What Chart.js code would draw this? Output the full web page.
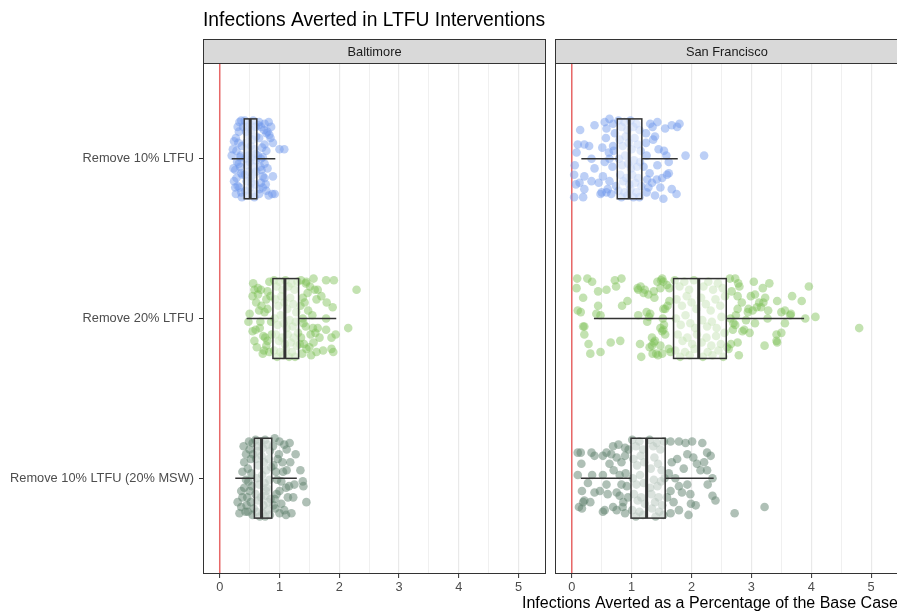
<!DOCTYPE html>
<html><head><meta charset="utf-8">
<script src="https://cdn.jsdelivr.net/npm/chart.js@4/dist/chart.umd.min.js"></script>
<style>
html,body{margin:0;padding:0;background:#fff;overflow:hidden;width:897px;height:612px;}
#wrap{position:relative;width:897px;height:612px;overflow:hidden;}
canvas{position:absolute;top:0;left:0;}
</style></head><body>
<div id="wrap"><canvas id="c1" width="897" height="612"></canvas><canvas id="c2" width="903" height="612"></canvas></div>
<script>
const title = "Infections Averted in LTFU Interventions";
const xTitle = "Infections Averted as a Percentage of the Base Case";
const panels = ["Baltimore", "San Francisco"];
const categories = ["Remove 10% LTFU", "Remove 20% LTFU", "Remove 10% LTFU (20% MSW)"];
const xTickValues = [0, 0.5, 1, 1.5, 2, 2.5, 3, 3.5, 4, 4.5, 5];
const seriesColors = ["rgba(110,150,235,0.46)", "rgba(125,192,85,0.46)", "rgba(95,130,110,0.5)"];

// box statistics per category
const balWhiskLo = [0.20, 0.45, 0.26];
const balQ1      = [0.41, 0.89, 0.58];
const balMedian  = [0.51, 1.09, 0.70];
const balQ3      = [0.62, 1.32, 0.87];
const balWhiskHi = [0.93, 1.95, 1.29];
const sfWhiskLo  = [0.16, 0.37, 0.15];
const sfQ1       = [0.76, 1.70, 0.99];
const sfMedian   = [0.96, 2.12, 1.25];
const sfQ3       = [1.17, 2.58, 1.56];
const sfWhiskHi  = [1.77, 3.88, 2.37];

// jittered points: [value, vertical jitter]
const balRemove10 = [[0.24,-0.11],[0.22,-0.06],[0.27,-0.13],[0.30,-0.20],[0.33,-0.23],[0.36,-0.24],[0.32,-0.17],[0.26,0.07],[0.24,0.14],[0.28,0.12],[0.27,0.22],[0.33,0.18],[0.36,0.21],[0.37,0.24],[0.32,0.03],[0.34,-0.01],[0.28,-0.05],[0.37,-0.08],[0.36,0.09],[0.30,0.17],[0.2,-0.02],[0.23,0.06],[0.29,0.02],[0.35,-0.02],[0.31,-0.1],[0.38,0.1],[0.26,0.18],[0.39,-0.2],[0.34,0.05],
[0.42,-0.24],[0.45,-0.2],[0.48,-0.15],[0.5,-0.22],[0.53,-0.18],[0.56,-0.24],[0.6,-0.2],[0.44,-0.1],[0.47,-0.05],[0.52,-0.08],[0.55,-0.12],[0.58,-0.06],[0.61,-0.14],[0.43,0.0],[0.46,0.04],[0.5,0.02],[0.54,-0.01],[0.57,0.05],[0.6,0.01],[0.42,0.1],[0.45,0.14],[0.49,0.08],[0.52,0.12],[0.56,0.1],[0.59,0.16],[0.43,0.2],[0.47,0.23],[0.51,0.18],[0.55,0.22],[0.58,0.24],[0.61,0.08],[0.48,-0.02],[0.53,0.15],[0.44,-0.17],[0.6,-0.03],
[0.66,-0.23],[0.69,-0.20],[0.75,-0.22],[0.82,-0.23],[0.86,-0.20],[0.80,-0.17],[0.78,-0.16],[0.83,-0.15],[0.89,-0.10],[0.75,-0.09],[0.71,-0.07],[0.78,-0.05],[1.00,-0.06],[1.08,-0.06],[0.72,-0.01],[0.75,0.03],[0.68,0.05],[0.72,0.11],[0.75,0.12],[0.89,0.11],[0.69,0.15],[0.72,0.18],[0.78,0.20],[0.82,0.23],[0.88,0.22],[0.92,0.22],[0.66,0.19],[0.66,-0.13],[0.64,-0.02],[0.7,0.07],[0.66,0.22],[0.74,-0.18],[0.8,0.06],[0.85,-0.13],[0.77,0.16],[0.65,-0.21],[0.69,0.0]];

const balRemove20 = [[0.50,-0.03],[0.55,-0.14],[0.58,-0.18],[0.64,-0.19],[0.69,-0.18],[0.61,-0.10],[0.66,-0.05],[0.75,-0.04],[0.80,-0.06],[0.78,-0.12],[0.83,-0.23],[0.80,-0.17],[0.55,0.08],[0.60,0.07],[0.67,0.06],[0.73,0.11],[0.76,0.12],[0.80,0.14],[0.72,0.22],[0.83,0.21],[0.78,0.17],[0.86,0.02],[0.48,0.02],[0.56,-0.22],[0.62,0.18],[0.7,-0.08],[0.74,0.2],[0.68,0.02],[0.85,-0.14],[0.58,0.14],[0.64,-0.15],[0.87,0.1],
[0.91,-0.24],[0.95,-0.2],[1.0,-0.23],[1.05,-0.18],[1.1,-0.24],[1.15,-0.2],[1.2,-0.22],[1.25,-0.18],[1.3,-0.23],[0.93,-0.12],[0.98,-0.08],[1.03,-0.14],[1.08,-0.1],[1.13,-0.06],[1.18,-0.13],[1.23,-0.09],[1.28,-0.04],[0.92,0.0],[0.97,0.04],[1.02,-0.02],[1.07,0.03],[1.12,0.06],[1.17,0.01],[1.22,0.05],[1.27,0.02],[0.94,0.1],[0.99,0.14],[1.04,0.12],[1.09,0.16],[1.14,0.1],[1.19,0.15],[1.24,0.12],[1.29,0.17],[0.91,0.2],[0.96,0.24],[1.01,0.21],[1.06,0.23],[1.11,0.19],[1.16,0.24],[1.21,0.21],[1.26,0.24],[1.31,0.09],
[1.36,-0.24],[1.45,-0.23],[1.57,-0.25],[1.78,-0.24],[1.91,-0.24],[2.29,-0.18],[1.51,-0.20],[1.59,-0.18],[1.64,-0.18],[1.62,-0.12],[1.39,-0.13],[1.42,-0.10],[1.48,-0.05],[1.79,-0.10],[1.89,-0.07],[1.78,0.00],[2.15,0.06],[1.39,0.00],[1.44,0.05],[1.56,0.06],[1.64,0.06],[1.60,0.09],[1.67,0.12],[1.57,0.15],[1.50,0.18],[1.45,0.19],[1.53,0.23],[1.62,0.21],[1.73,0.20],[1.87,0.19],[1.90,0.21],[1.94,0.10],[1.87,0.12],[1.78,0.07],[1.36,0.12],[1.41,0.16],[1.35,-0.08],[1.4,0.03],[1.47,-0.16],[1.52,0.1],[1.38,0.22],[1.55,-0.02],[1.7,-0.14],[1.34,0.16],[1.44,-0.22]];

const balRemove10MSW = [[0.33,0.22],[0.36,0.18],[0.38,0.12],[0.41,0.06],[0.44,0.01],[0.38,-0.04],[0.41,-0.10],[0.44,-0.15],[0.49,-0.23],[0.50,-0.18],[0.52,-0.12],[0.47,-0.06],[0.50,0.08],[0.52,0.15],[0.47,0.21],[0.55,0.23],[0.55,-0.22],[0.54,0.05],[0.36,0.08],[0.45,0.17],[0.3,0.15],[0.4,-0.2],[0.46,0.12],[0.53,-0.03],[0.57,0.19],[0.43,0.21],[0.56,-0.15],[0.48,0.02],
[0.6,-0.24],[0.64,-0.2],[0.68,-0.23],[0.72,-0.19],[0.76,-0.24],[0.8,-0.21],[0.84,-0.17],[0.61,-0.12],[0.65,-0.08],[0.7,-0.14],[0.74,-0.1],[0.78,-0.05],[0.82,-0.12],[0.86,-0.07],[0.62,0.0],[0.66,0.04],[0.71,-0.02],[0.75,0.03],[0.79,0.06],[0.83,0.01],[0.6,0.1],[0.64,0.14],[0.69,0.12],[0.73,0.17],[0.77,0.11],[0.81,0.15],[0.85,0.13],[0.62,0.21],[0.67,0.24],[0.72,0.22],[0.76,0.24],[0.8,0.2],[0.84,0.23],[0.63,-0.17],[0.78,0.08],
[0.92,-0.25],[1.00,-0.23],[1.08,-0.21],[1.17,-0.22],[1.12,-0.18],[0.99,-0.15],[1.27,-0.15],[1.18,-0.10],[1.12,-0.05],[1.06,-0.04],[1.35,-0.05],[1.39,0.02],[1.40,0.05],[1.25,0.04],[1.11,0.06],[1.00,0.08],[0.95,0.10],[1.14,0.12],[1.23,0.12],[1.45,0.15],[1.03,0.16],[0.93,0.19],[1.00,0.22],[1.11,0.23],[1.20,0.22],[0.92,0.13],[0.90,-0.08],[0.96,0.01],[0.89,-0.2],[0.94,-0.04],[1.03,0.02],[0.97,-0.12],[1.08,0.2],[0.9,0.17],[1.16,0.05],[1.05,-0.1]];

const sfRemove10 = [[0.05,0.04],[0.04,0.10],[0.07,0.16],[0.04,0.24],[0.19,0.24],[0.10,-0.09],[0.08,-0.04],[0.14,-0.18],[0.21,-0.09],[0.29,-0.08],[0.38,-0.21],[0.33,0.00],[0.38,0.06],[0.21,0.11],[0.33,0.14],[0.13,0.15],[0.21,0.19],[0.51,-0.07],[0.57,-0.13],[0.58,-0.19],[0.55,-0.23],[0.63,-0.25],[0.69,-0.22],[0.62,-0.04],[0.68,0.05],[0.52,0.11],[0.63,0.14],[0.50,0.21],[0.48,0.22],[0.58,0.21],[0.66,0.22],[0.74,0.17],[0.69,-0.08],[0.72,-0.16],[0.63,0.00],[0.55,0.02],[0.7,-0.05],[0.45,0.15],[0.6,0.19],
[0.78,-0.24],[0.83,-0.2],[0.88,-0.23],[0.93,-0.18],[0.98,-0.24],[1.03,-0.2],[1.08,-0.22],[1.13,-0.18],[0.8,-0.12],[0.85,-0.08],[0.9,-0.14],[0.95,-0.1],[1.0,-0.06],[1.05,-0.13],[1.1,-0.09],[1.15,-0.05],[0.79,0.0],[0.84,0.04],[0.89,-0.02],[0.94,0.03],[0.99,0.06],[1.04,0.01],[1.09,0.05],[1.14,0.02],[0.81,0.1],[0.86,0.14],[0.91,0.12],[0.96,0.16],[1.01,0.1],[1.06,0.15],[1.11,0.12],[1.16,0.17],[0.78,0.2],[0.83,0.24],[0.88,0.21],[0.93,0.23],[0.98,0.19],[1.03,0.24],[1.08,0.21],[1.13,0.24],
[1.24,-0.16],[1.31,-0.22],[1.43,-0.23],[1.56,-0.19],[1.67,-0.21],[1.76,-0.20],[1.80,-0.22],[1.39,-0.14],[1.36,-0.12],[1.24,-0.10],[1.25,-0.02],[1.54,-0.05],[1.58,-0.02],[1.90,-0.02],[2.21,-0.02],[1.43,0.04],[1.30,0.09],[1.26,0.13],[1.42,0.13],[1.51,0.12],[1.59,0.10],[1.62,0.09],[1.34,0.15],[1.25,0.21],[1.39,0.23],[1.48,0.18],[1.67,0.19],[1.75,0.22],[1.53,0.25],[1.45,-0.06],[1.62,0.02],[1.2,0.05],[1.35,-0.2],[1.28,0.18]];

const sfRemove20 = [[0.09,-0.25],[0.26,-0.25],[0.34,-0.23],[0.08,-0.19],[0.19,-0.13],[0.10,-0.05],[0.15,-0.04],[0.44,-0.17],[0.58,-0.18],[0.72,-0.24],[0.83,-0.25],[0.74,-0.20],[0.93,-0.11],[0.84,-0.08],[0.44,-0.08],[0.41,-0.03],[0.48,-0.02],[0.19,0.05],[0.21,0.05],[0.21,0.10],[0.28,0.16],[0.31,0.22],[0.48,0.21],[0.65,0.15],[0.81,0.14],[1.14,0.16],[1.16,0.24],[1.34,0.17],[1.37,0.15],[1.35,0.22],[1.41,0.22],[1.44,0.23],[1.51,0.22],[1.31,-0.03],[1.29,-0.01],[1.11,-0.02],[1.26,0.02],[1.10,-0.19],[1.15,-0.20],[1.22,-0.18],[1.20,-0.16],[1.28,-0.15],[1.38,-0.13],[1.37,-0.17],[1.43,-0.23],[1.49,-0.24],[1.51,-0.25],[1.53,-0.23],[1.59,-0.21],[1.63,-0.19],[1.48,-0.19],[1.56,-0.06],[1.60,-0.08],[1.52,0.00],[1.54,0.04],[1.53,0.07],[1.51,0.08],[1.48,0.06],[1.56,0.10],[1.48,0.17],[1.62,0.19],[1.65,0.21],[1.34,0.12],[1.39,0.14],[1.30,0.18],[1.11,-0.18],[1.25,-0.04],[1.53,-0.06],[1.63,-0.11],
[1.72,-0.24],[1.8,-0.2],[1.88,-0.23],[1.96,-0.18],[2.04,-0.24],[2.2,-0.2],[2.28,-0.23],[2.36,-0.18],[2.44,-0.22],[2.52,-0.19],[1.75,-0.12],[1.84,-0.08],[1.92,-0.14],[2.0,-0.1],[2.08,-0.06],[2.16,-0.13],[2.24,-0.09],[2.32,-0.05],[2.4,-0.12],[2.48,-0.08],[2.56,-0.14],[1.74,0.0],[1.82,0.04],[1.9,-0.02],[1.98,0.03],[2.06,0.06],[2.18,0.01],[2.26,0.05],[2.34,0.02],[2.42,0.06],[2.5,-0.01],[1.77,0.1],[1.85,0.14],[1.93,0.12],[2.01,0.16],[2.09,0.1],[2.17,0.15],[2.25,0.12],[2.33,0.17],[2.41,0.11],[2.49,0.16],[2.55,0.09],[1.73,0.2],[1.81,0.24],[1.89,0.21],[1.97,0.23],[2.05,0.19],[2.19,0.24],[2.27,0.21],[2.35,0.23],[2.45,0.2],[2.53,0.24],
[2.64,-0.25],[2.73,-0.25],[2.78,-0.22],[2.80,-0.20],[2.67,-0.17],[2.77,-0.14],[2.84,-0.10],[3.04,-0.23],[3.19,-0.19],[3.30,-0.22],[2.99,-0.14],[3.06,-0.15],[3.13,-0.10],[3.20,-0.10],[3.23,-0.13],[3.09,-0.07],[3.16,-0.07],[3.28,-0.05],[2.95,-0.06],[2.94,-0.04],[3.02,-0.05],[3.43,-0.11],[3.56,-0.05],[3.68,-0.14],[3.84,-0.11],[3.96,-0.20],[3.65,-0.02],[3.56,0.03],[3.50,0.09],[3.42,0.10],[3.42,0.14],[3.43,0.15],[3.22,0.17],[3.06,0.03],[2.97,0.09],[2.88,0.07],[2.85,0.08],[2.73,0.04],[2.69,0.07],[2.70,0.03],[2.74,-0.02],[2.65,0.00],[2.77,0.15],[2.66,0.16],[2.62,0.19],[2.79,0.23],[2.59,0.18],[3.90,0.00],[4.07,-0.01],[4.80,0.06],[3.27,0.00],[3.50,-0.04],[3.66,-0.03],[2.91,0.01],[2.77,-0.06]];

const sfRemove10MSW = [[0.10,-0.16],[0.15,-0.16],[0.16,-0.09],[0.10,-0.02],[0.17,0.08],[0.21,0.14],[0.19,0.15],[0.17,0.19],[0.12,0.18],[0.31,0.15],[0.27,0.03],[0.34,-0.02],[0.33,-0.16],[0.38,-0.14],[0.52,-0.14],[0.58,-0.16],[0.66,-0.15],[0.69,-0.20],[0.78,-0.21],[0.75,-0.13],[0.83,-0.10],[0.89,-0.19],[0.89,-0.14],[0.52,-0.02],[0.58,0.04],[0.38,0.09],[0.47,0.08],[0.75,0.09],[0.80,0.11],[0.83,0.04],[0.92,0.05],[0.69,0.18],[0.75,0.20],[0.52,0.21],[0.89,0.22],[0.86,0.15],[0.94,0.12],[0.80,-0.02],[0.63,-0.09],[0.55,0.2],[0.7,-0.05],[0.85,0.18],[0.95,-0.18],[0.6,0.1],[0.9,-0.03],
[1.01,-0.24],[1.07,-0.2],[1.13,-0.23],[1.19,-0.18],[1.3,-0.24],[1.36,-0.2],[1.42,-0.22],[1.48,-0.18],[1.54,-0.23],[1.03,-0.12],[1.09,-0.08],[1.15,-0.14],[1.21,-0.1],[1.32,-0.06],[1.38,-0.13],[1.44,-0.09],[1.5,-0.05],[1.02,0.0],[1.08,0.04],[1.14,-0.02],[1.2,0.03],[1.31,0.06],[1.37,0.01],[1.43,0.05],[1.49,0.02],[1.55,0.0],[1.04,0.1],[1.1,0.14],[1.16,0.12],[1.22,0.16],[1.33,0.1],[1.39,0.15],[1.45,0.12],[1.51,0.17],[1.01,0.2],[1.07,0.24],[1.13,0.21],[1.19,0.23],[1.34,0.19],[1.4,0.24],[1.46,0.21],[1.53,0.23],
[1.65,-0.23],[1.79,-0.23],[1.90,-0.22],[2.01,-0.23],[2.18,-0.22],[2.26,-0.16],[2.32,-0.14],[2.21,-0.10],[2.26,-0.05],[2.15,-0.05],[2.03,-0.13],[1.93,-0.15],[1.76,-0.12],[1.67,-0.10],[1.62,-0.03],[1.73,0.00],[1.79,0.05],[1.93,0.04],[1.84,0.09],[1.65,0.08],[1.59,0.12],[1.70,0.15],[1.98,0.10],[1.99,0.16],[2.07,0.17],[2.27,0.04],[2.35,0.00],[2.35,0.11],[2.40,0.14],[1.65,0.22],[1.79,0.20],[1.95,0.23],[2.72,0.22],[3.22,0.18],[2.09,-0.09],[1.87,-0.06]];

const FONT = "'Liberation Sans', Arial, Helvetica, sans-serif";

function pts(arr, cat) { return arr.map(p => ({ x: p[0], y: cat + p[1] })); }

function makeChart(id, panelName, groups, stats, isLeft) {
  const datasets = [{
    type: 'line', data: [{x: 0, y: 0.4}, {x: 0, y: 3.6}],
    borderColor: 'rgb(232,104,104)', borderWidth: 1.5, pointRadius: 0, order: 10
  }];
  groups.forEach((g, i) => datasets.push({
    type: 'scatter', data: pts(g, i + 1), pointRadius: 4.3, pointBorderWidth: 0,
    backgroundColor: seriesColors[i], borderColor: 'rgba(0,0,0,0)', order: 1
  }));
  const panelPlugin = {
    id: 'panel' + id,
    afterDatasetsDraw(chart) {
      const ctx = chart.ctx, xs = chart.scales.x, ys = chart.scales.y;
      ctx.save();
      for (let i = 0; i < 3; i++) {
        const c = i + 1;
        const yc = ys.getPixelForValue(c), yt = ys.getPixelForValue(c - 0.25), yb = ys.getPixelForValue(c + 0.25);
        const xlo = xs.getPixelForValue(stats.lo[i]), xq1 = xs.getPixelForValue(stats.q1[i]),
              xm = xs.getPixelForValue(stats.med[i]), xq3 = xs.getPixelForValue(stats.q3[i]),
              xhi = xs.getPixelForValue(stats.hi[i]);
        ctx.strokeStyle = '#333333'; ctx.lineWidth = 1.5;
        ctx.beginPath(); ctx.moveTo(xlo, yc); ctx.lineTo(xq1, yc); ctx.moveTo(xq3, yc); ctx.lineTo(xhi, yc); ctx.stroke();
        ctx.fillStyle = 'rgba(255,255,255,0.55)';
        ctx.fillRect(xq1, yt, xq3 - xq1, yb - yt);
        ctx.strokeRect(xq1, yt, xq3 - xq1, yb - yt);
        ctx.lineWidth = 3;
        ctx.beginPath(); ctx.moveTo(xm, yt); ctx.lineTo(xm, yb); ctx.stroke();
      }
      ctx.restore();
    },
    afterDraw(chart) {
      const ctx = chart.ctx, a = chart.chartArea;
      ctx.save();
      ctx.strokeStyle = '#333333'; ctx.lineWidth = 1;
      ctx.strokeRect(a.left + 0.5, a.top + 0.5, a.right - a.left - 1, a.bottom - a.top - 1);
      ctx.fillStyle = '#d9d9d9';
      ctx.fillRect(a.left + 0.5, 39.5, a.right - a.left - 1, 24);
      ctx.strokeRect(a.left + 0.5, 39.5, a.right - a.left - 1, 24);
      ctx.fillStyle = '#1a1a1a'; ctx.font = '12.8px ' + FONT;
      ctx.textAlign = 'center'; ctx.textBaseline = 'middle';
      ctx.fillText(panelName, (a.left + a.right) / 2, 52);
      if (isLeft) {
        ctx.fillStyle = '#000'; ctx.textAlign = 'left'; ctx.textBaseline = 'alphabetic';
        ctx.font = '19.3px ' + FONT;
        ctx.fillText(title, 203, 26);
        ctx.font = '16px ' + FONT;
        ctx.fillText(xTitle, 522, 608);
      }
      ctx.restore();
    }
  };
  const isInt = v => Math.abs(v - Math.round(v)) < 1e-6;
  return new Chart(document.getElementById(id), {
    data: { datasets },
    plugins: [panelPlugin],
    options: {
      responsive: false, animation: false, events: [],
      layout: { padding: isLeft ? { left: 0, right: 351, top: 63, bottom: 0 } : { left: 555, right: 2, top: 63, bottom: 0 } },
      plugins: { legend: { display: false }, tooltip: { enabled: false }, title: { display: false } },
      scales: {
        x: {
          type: 'linear', min: -0.28, max: 5.46,
          afterBuildTicks: s => { s.ticks = xTickValues.map(v => ({ value: v })); },
          afterFit: s => { s.height = 38; },
          border: { display: false },
          grid: {
            color: '#e9e9e9',
            lineWidth: c => (c.tick && isInt(c.tick.value)) ? 1.2 : 0.7,
            tickColor: c => (c.tick && isInt(c.tick.value)) ? '#333333' : 'rgba(0,0,0,0)',
            tickLength: 4, tickWidth: 1
          },
          ticks: {
            autoSkip: false, maxRotation: 0, padding: 2, color: '#4d4d4d',
            font: { family: FONT, size: 12.8 },
            callback: v => isInt(v) ? String(Math.round(v)) : ''
          }
        },
        y: {
          type: 'linear', min: 0.4, max: 3.6, reverse: true, display: isLeft,
          afterBuildTicks: s => { s.ticks = [1, 2, 3].map(v => ({ value: v })); },
          afterFit: s => { s.width = isLeft ? 203 : 0; },
          border: { display: false },
          grid: { drawOnChartArea: false, tickLength: 4, tickColor: '#333333', tickWidth: 1 },
          ticks: {
            padding: 5, color: '#4d4d4d', font: { family: FONT, size: 12.8 },
            callback: v => categories[Math.round(v) - 1]
          }
        }
      }
    }
  });
}

makeChart('c1', panels[0], [balRemove10, balRemove20, balRemove10MSW],
  { lo: balWhiskLo, q1: balQ1, med: balMedian, q3: balQ3, hi: balWhiskHi }, true);
makeChart('c2', panels[1], [sfRemove10, sfRemove20, sfRemove10MSW],
  { lo: sfWhiskLo, q1: sfQ1, med: sfMedian, q3: sfQ3, hi: sfWhiskHi }, false);
</script>
</body></html>
